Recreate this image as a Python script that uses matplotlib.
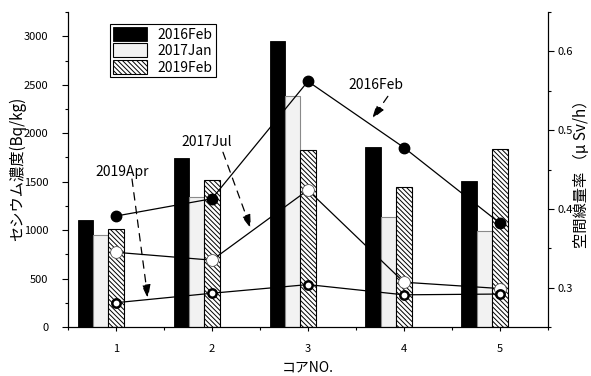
import matplotlib
matplotlib.use('Agg')
import matplotlib.pyplot as plt
import numpy as np
from matplotlib.ticker import MultipleLocator

plt.rcParams['font.family'] = ['Noto Sans CJK JP', 'DejaVu Sans']
plt.rcParams['hatch.linewidth'] = 0.7

# core numbers
cores = [1, 2, 3, 4, 5]

# cesium concentration (Bq/kg), bars on left axis
cs_2016feb = [1110, 1740, 2950, 1860, 1510]
cs_2017jan = [950, 1340, 2380, 1140, 990]
cs_2019feb = [1010, 1520, 1830, 1450, 1840]

# air dose rate (uSv/h), lines on right axis
dose_2016feb = [0.391, 0.413, 0.562, 0.478, 0.382]
dose_2017jul = [0.345, 0.335, 0.424, 0.307, 0.299]
dose_2019apr = [0.281, 0.293, 0.304, 0.291, 0.292]

# annotations: label, text position, arrow start, arrow end (right axis units)
notes = [
    ('2019Apr', (1.06, 0.447), (1.167, 0.438), (1.333, 0.286)),
    ('2017Jul', (1.948, 0.485), (2.115, 0.472), (2.406, 0.375)),
    ('2016Feb', (3.708, 0.558), (3.833, 0.543), (3.667, 0.514)),
]

x = np.array(cores)
w = 0.16

fig = plt.figure(figsize=(5.91, 3.76), dpi=100)
ax = fig.add_axes([0.115, 0.130, 0.812, 0.838])

ax.bar(x - 2 * w, cs_2016feb, w, color='black', edgecolor='black', linewidth=0.6, label='2016Feb')
ax.bar(x - w, cs_2017jan, w, color='#f2f2f2', edgecolor='#8a8a8a', linewidth=0.8, label='2017Jan')
ax.bar(x, cs_2019feb, w, color='white', edgecolor='black', linewidth=0.8,
       hatch='\\' * 7, label='2019Feb')

ax.set_xlim(0.5, 5.5)
ax.set_ylim(0, 3250)
ax.xaxis.set_major_locator(MultipleLocator(1))
ax.xaxis.set_minor_locator(MultipleLocator(0.5))
ax.yaxis.set_major_locator(MultipleLocator(500))
ax.yaxis.set_minor_locator(MultipleLocator(250))
ax.tick_params(axis='y', which='major', length=4, width=0.8, pad=10, labelsize=8)
ax.tick_params(axis='y', which='minor', length=2.5, width=0.8)
ax.tick_params(axis='x', which='major', length=3, width=0.8, pad=9, labelsize=8)
ax.tick_params(axis='x', which='minor', length=2.5, width=0.8)
ax.spines['top'].set_visible(False)
ax.set_ylabel('セシウム濃度(Bq/kg)', fontsize=11, va='center')
ax.yaxis.set_label_coords(-0.106, 0.503)
ax.set_xlabel('コアNO.', fontsize=10, va='top')
ax.xaxis.set_label_coords(0.5, -0.105)

leg = ax.legend(loc='upper left', bbox_to_anchor=(0.0875, 0.962), borderaxespad=0,
                fancybox=False, edgecolor='black', framealpha=1, fontsize=10,
                handlelength=2.45, handleheight=1.2, labelspacing=0.12,
                borderpad=0.2, handletextpad=0.8)
leg.get_frame().set_linewidth(0.8)
for h in leg.legend_handles:
    h.set_edgecolor('black')

ax2 = ax.twinx()
ax2.plot(x, dose_2016feb, color='black', lw=0.9, marker='o', ms=7.5,
         mfc='black', mec='black')
ax2.plot(x, dose_2017jul, color='black', lw=0.9, marker='o', ms=8.5,
         mfc='white', mec='#555555', mew=0.6)
ax2.plot(x, dose_2019apr, color='black', lw=0.9, marker='o', ms=6,
         mfc='white', mec='black', mew=1.8)
ax2.set_ylim(0.25, 0.65)
ax2.yaxis.set_major_locator(MultipleLocator(0.1))
ax2.yaxis.set_minor_locator(MultipleLocator(0.05))
ax2.tick_params(axis='y', which='major', length=4, width=0.8, pad=3, labelsize=8)
ax2.tick_params(axis='y', which='minor', length=2.5, width=0.8)
ax2.spines['top'].set_visible(False)
ax2.set_ylabel('空間線量率 （μ Sv/h）', fontsize=11, va='center')
ax2.yaxis.set_label_coords(1.07, 0.497)

arrow = dict(arrowstyle='-|>,head_length=0.7,head_width=0.22', linestyle=(0, (6, 5)),
             color='black', lw=0.9, mutation_scale=12, shrinkA=0, shrinkB=0)
for label, txt, start, end in notes:
    ax2.text(txt[0], txt[1], label, fontsize=10, ha='center', va='center')
    ax2.annotate('', xy=end, xytext=start, arrowprops=arrow)

fig.savefig('out.png', dpi=100)
